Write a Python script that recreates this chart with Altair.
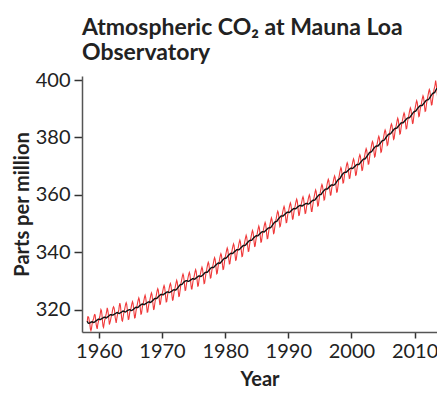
import altair as alt
import pandas as pd

# Monthly mean CO2 (ppm) at Mauna Loa, starting March 1958
co2_1950s = [315.7, 317.5, 317.5, 317.1, 315.9, 314.9, 313.2, 312.7, 313.3, 314.7,
             315.6, 316.4, 316.7, 317.7, 318.3, 318.2, 316.5, 314.8, 313.8, 313.3, 314.8, 315.6]
co2_1960s = [316.4, 317.0, 317.6, 319.0, 320.0, 319.6, 318.2, 315.9, 314.2, 313.8, 315.0, 316.2,
             316.9, 317.7, 318.5, 319.5, 320.6, 319.8, 318.6, 316.8, 314.8, 315.4, 316.1, 317.0,
             317.9, 318.6, 319.7, 320.6, 321.0, 320.6, 319.6, 317.4, 316.3, 315.4, 316.7, 317.7,
             318.7, 319.1, 319.9, 321.4, 322.3, 321.5, 319.7, 317.8, 316.2, 316.0, 317.1, 318.3,
             319.3, 320.1, 321.0, 321.9, 322.4, 321.8, 320.3, 318.2, 316.6, 316.7, 318.0, 319.3,
             319.5, 320.4, 321.3, 322.2, 322.8, 322.2, 320.7, 318.7, 317.1, 317.2, 318.6, 319.9,
             320.8, 321.7, 322.6, 323.5, 324.1, 323.5, 322.0, 320.0, 318.4, 318.5, 319.9, 321.2,
             321.8, 322.7, 323.5, 324.4, 325.0, 324.3, 322.8, 320.8, 319.1, 319.2, 320.6, 321.8,
             322.5, 323.4, 324.3, 325.2, 325.8, 325.2, 323.7, 321.7, 320.1, 320.2, 321.6, 322.9,
             323.9, 324.8, 325.8, 326.7, 327.3, 326.8, 325.3, 323.3, 321.8, 321.9, 323.3, 324.7]
co2_1970s = [325.1, 326.0, 326.9, 327.8, 328.4, 327.8, 326.3, 324.3, 322.7, 322.8, 324.2, 325.5,
             326.0, 326.8, 327.7, 328.6, 329.1, 328.5, 327.0, 324.9, 323.3, 323.4, 324.7, 326.0,
             326.7, 327.7, 328.6, 329.5, 330.2, 329.6, 328.1, 326.2, 324.6, 324.7, 326.2, 327.5,
             329.1, 330.0, 330.9, 331.8, 332.4, 331.8, 330.3, 328.3, 326.7, 326.8, 328.2, 329.5,
             329.8, 330.7, 331.6, 332.4, 333.0, 332.4, 330.8, 328.8, 327.2, 327.2, 328.6, 329.9,
             330.6, 331.5, 332.4, 333.3, 333.9, 333.3, 331.8, 329.8, 328.2, 328.3, 329.7, 331.0,
             331.5, 332.4, 333.3, 334.2, 334.8, 334.2, 332.7, 330.7, 329.1, 329.2, 330.6, 331.9,
             333.1, 334.0, 335.0, 335.9, 336.5, 336.0, 334.5, 332.5, 331.0, 331.1, 332.5, 333.9,
             334.7, 335.6, 336.5, 337.5, 338.1, 337.5, 336.1, 334.1, 332.5, 332.7, 334.1, 335.4,
             336.1, 337.0, 338.0, 338.9, 339.5, 339.0, 337.5, 335.5, 334.0, 334.1, 335.5, 336.9]
co2_1980s = [338.0, 339.0, 339.9, 340.8, 341.5, 340.9, 339.4, 337.5, 335.9, 336.0, 337.5, 338.8,
             339.6, 340.5, 341.4, 342.3, 342.9, 342.3, 340.8, 338.8, 337.2, 337.3, 338.7, 340.0,
             340.9, 341.8, 342.7, 343.6, 344.2, 343.6, 342.1, 340.1, 338.5, 338.6, 340.0, 341.3,
             342.4, 343.4, 344.3, 345.2, 345.9, 345.3, 343.8, 341.9, 340.3, 340.4, 341.9, 343.2,
             344.1, 345.1, 346.0, 346.9, 347.6, 347.0, 345.5, 343.6, 342.0, 342.1, 343.6, 344.9,
             345.6, 346.6, 347.5, 348.4, 349.1, 348.5, 347.0, 345.1, 343.5, 343.6, 345.1, 346.4,
             347.1, 348.0, 348.9, 349.8, 350.4, 349.8, 348.3, 346.3, 344.7, 344.8, 346.2, 347.5,
             348.4, 349.4, 350.3, 351.3, 352.0, 351.4, 350.0, 348.1, 346.5, 346.7, 348.2, 349.5,
             350.8, 351.7, 352.7, 353.7, 354.3, 353.8, 352.4, 350.4, 348.9, 349.1, 350.5, 351.9,
             352.7, 353.6, 354.5, 355.4, 356.0, 355.4, 353.9, 351.9, 350.3, 350.4, 351.8, 353.1]
co2_1990s = [353.9, 354.8, 355.7, 356.6, 357.2, 356.6, 355.1, 353.1, 351.5, 351.6, 353.0, 354.3,
             355.2, 356.1, 357.0, 357.9, 358.5, 357.9, 356.4, 354.4, 352.8, 352.9, 354.3, 355.6,
             356.2, 357.0, 357.9, 358.8, 359.3, 358.7, 357.2, 355.1, 353.5, 353.6, 354.9, 356.2,
             356.8, 357.7, 358.6, 359.4, 360.0, 359.4, 357.8, 355.8, 354.2, 354.2, 355.6, 356.9,
             358.2, 359.2, 360.1, 361.0, 361.7, 361.1, 359.6, 357.7, 356.1, 356.2, 357.7, 359.0,
             360.1, 361.0, 362.0, 363.0, 363.6, 363.1, 361.7, 359.7, 358.2, 358.4, 359.8, 361.2,
             362.0, 362.9, 363.9, 364.8, 365.4, 364.9, 363.4, 361.4, 359.9, 360.0, 361.4, 362.8,
             363.3, 364.2, 365.1, 366.0, 366.6, 366.0, 364.5, 362.5, 360.9, 361.0, 362.4, 363.7,
             365.9, 366.9, 367.9, 368.8, 369.5, 369.0, 367.5, 365.6, 364.1, 364.2, 365.7, 367.1,
             367.8, 368.7, 369.7, 370.6, 371.2, 370.7, 369.2, 367.2, 365.7, 365.8, 367.2, 368.6]
co2_2000s = [369.2, 370.1, 371.0, 371.9, 372.5, 371.9, 370.4, 368.4, 366.8, 366.9, 368.3, 369.6,
             370.6, 371.5, 372.5, 373.4, 374.0, 373.5, 372.0, 370.0, 368.5, 368.6, 370.0, 371.4,
             372.5, 373.5, 374.5, 375.4, 376.1, 375.6, 374.1, 372.2, 370.7, 370.8, 372.3, 373.7,
             375.1, 376.0, 377.0, 378.0, 378.6, 378.1, 376.7, 374.7, 373.2, 373.4, 374.8, 376.2,
             377.0, 377.9, 378.8, 379.8, 380.4, 379.8, 378.4, 376.4, 374.8, 375.0, 376.4, 377.7,
             379.1, 380.0, 381.0, 382.0, 382.6, 382.1, 380.7, 378.7, 377.2, 377.4, 378.8, 380.2,
             381.2, 382.1, 383.1, 384.1, 384.7, 384.2, 382.8, 380.8, 379.3, 379.5, 380.9, 382.3,
             383.1, 384.1, 385.0, 386.0, 386.7, 386.1, 384.7, 382.8, 381.2, 381.4, 382.9, 384.2,
             385.1, 386.0, 387.0, 387.9, 388.5, 388.0, 386.5, 384.5, 383.0, 383.1, 384.5, 385.9,
             386.7, 387.7, 388.7, 389.6, 390.3, 389.8, 388.3, 386.4, 384.9, 385.0, 386.5, 387.9]
co2_2010s = [389.2, 390.2, 391.1, 392.1, 392.8, 392.2, 390.8, 388.9, 387.3, 387.5, 389.0, 390.3,
             390.9, 391.9, 392.9, 393.8, 394.5, 394.0, 392.5, 390.6, 389.1, 389.2, 390.7, 392.1,
             393.1, 394.1, 395.1, 396.0, 396.7, 396.2, 394.7, 392.8, 391.3, 391.4, 392.9, 394.3,
             395.6, 396.8, 397.4, 398.4, 399.8, 398.6, 397.2, 395.3, 393.5]

first_month = "1958-03-01"
x_ticks_step_years = 10
y_title = "Parts per million"
x_title = "Year"
chart_title = ["Atmospheric CO\u2082 at Mauna Loa", "Observatory"]

values = co2_1950s + co2_1960s + co2_1970s + co2_1980s + co2_1990s + co2_2000s + co2_2010s
dates = pd.date_range(first_month, periods=len(values), freq="MS").strftime("%Y-%m-%d")
df = pd.DataFrame({"date": dates, "co2": values})

FONT = "Lato"

x_enc = alt.X(
    "date:T",
    title=x_title,
    scale=alt.Scale(domain=[alt.DateTime(year=1957, month=5, date=3),
                            alt.DateTime(year=2013, month=7, date=19)]),
    axis=alt.Axis(format="%Y",
                  tickCount=alt.TimeIntervalStep(interval="year", step=x_ticks_step_years),
                  tickSize=6, labelPadding=3, titlePadding=8),
)
y_scale = alt.Scale(domain=[312.2, 401.4], nice=False, zero=False)

red = alt.Chart(df).mark_line(color="#f0393a", strokeWidth=1.1).encode(
    x=x_enc,
    y=alt.Y("co2:Q", title=y_title, scale=y_scale,
            axis=alt.Axis(values=[320, 340, 360, 380, 400], tickSize=8,
                          labelPadding=4, titlePadding=3)),
)

black = alt.Chart(df).transform_window(
    avg="mean(co2)", frame=[-6, 6], sort=[alt.SortField("date")]
).mark_line(color="#111111", strokeWidth=1.4).encode(
    x=alt.X("date:T"),
    y=alt.Y("avg:Q", scale=y_scale),
)

chart = alt.layer(red, black).properties(
    width=355,
    height=256,
    autosize=alt.AutoSizeParams(type="none"),
    padding={"left": 74, "top": 68, "right": 0, "bottom": 56},
    title=alt.TitleParams(text=chart_title, anchor="start", frame="group",
                          font=FONT, fontSize=23, fontWeight="bold",
                          lineHeight=25.5, offset=5, color="#222222"),
).configure_view(stroke=None).configure_axis(
    grid=False,
    domainColor="#555555",
    domainWidth=1.5,
    tickColor="#333333",
    tickWidth=1.5,
    labelFont=FONT,
    labelFontSize=20,
    labelColor="#222222",
    titleFont=FONT,
    titleFontSize=20,
    titleFontWeight="bold",
    titleColor="#222222",
)

chart.save("out.html", embed_options={"renderer": "svg", "actions": False})
